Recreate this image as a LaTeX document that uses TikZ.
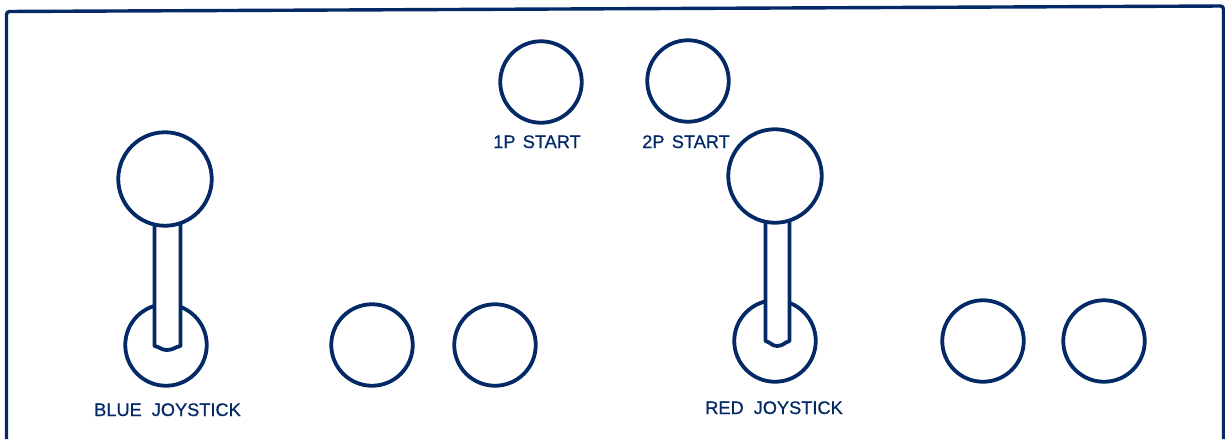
\documentclass[tikz,border=0pt]{standalone}
\usepackage{fontspec}
\newfontface\lblface[FakeBold=0.7]{Liberation Sans}
\definecolor{ink}{HTML}{032A66}
\tikzset{
  knob/.style={circle,draw=ink,line width=3.8pt,fill=white,inner sep=0pt,minimum size=#1},
  lbl/.style={text=ink,font=\lblface\fontsize{18.2pt}{19pt}\selectfont,inner sep=0pt,anchor=base},
  shaft/.style={draw=ink,line width=3.8pt,fill=white,line join=round}
}
\begin{document}
\begin{tikzpicture}[x=1pt,y=-1pt]
\useasboundingbox (0,0) rectangle (1225,439);
\fill[white] (0,0) rectangle (1225,439);
\coordinate (fbl) at (6.5,439);
\coordinate (ftl) at (6.5,11.5);
\coordinate (ftr) at (1223.5,6);
\coordinate (fbr) at (1223.5,439);
\draw[ink,line width=3.4pt,rounded corners=3pt] (fbl) -- (ftl) -- (ftr) -- (fbr);
\node[knob=81.5pt] (p1) at (541,82) {};
\node[knob=81.5pt] (p2) at (688,81) {};
\node[lbl] (p1l) at (537,148) {1P\hspace{0.4em}START};
\node[lbl] (p2l) at (686,148) {2P\hspace{0.4em}START};
% blue joystick
\node[knob=81.5pt] (bb) at (166,345) {};
\node[knob=81.5pt] (b1) at (372,345) {};
\node[knob=81.5pt] (b2) at (495,345) {};
\draw[shaft] (154.5,215) -- (154.5,346) .. controls (160,347) and (161,350) .. (167,350) .. controls (173,350) and (175,347) .. (180.5,346) -- (180.5,215);
\node[knob=93.5pt] (bj) at (165,179) {};
\node[lbl] (bl) at (167.5,416) {BLUE\hspace{0.55em}JOYSTICK};
% red joystick
\node[knob=81.5pt] (rb) at (775,341) {};
\node[knob=81.5pt] (r1) at (983,341) {};
\node[knob=81.5pt] (r2) at (1104,341) {};
\draw[shaft] (765.5,212) -- (765.5,341) .. controls (770,342) and (772,346) .. (777,346) .. controls (783,346) and (785,342) .. (789.5,341) -- (789.5,212);
\node[knob=93.5pt] (rj) at (775,176) {};
\node[lbl] (rl) at (774,414) {RED\hspace{0.55em}JOYSTICK};
\end{tikzpicture}
\end{document}
